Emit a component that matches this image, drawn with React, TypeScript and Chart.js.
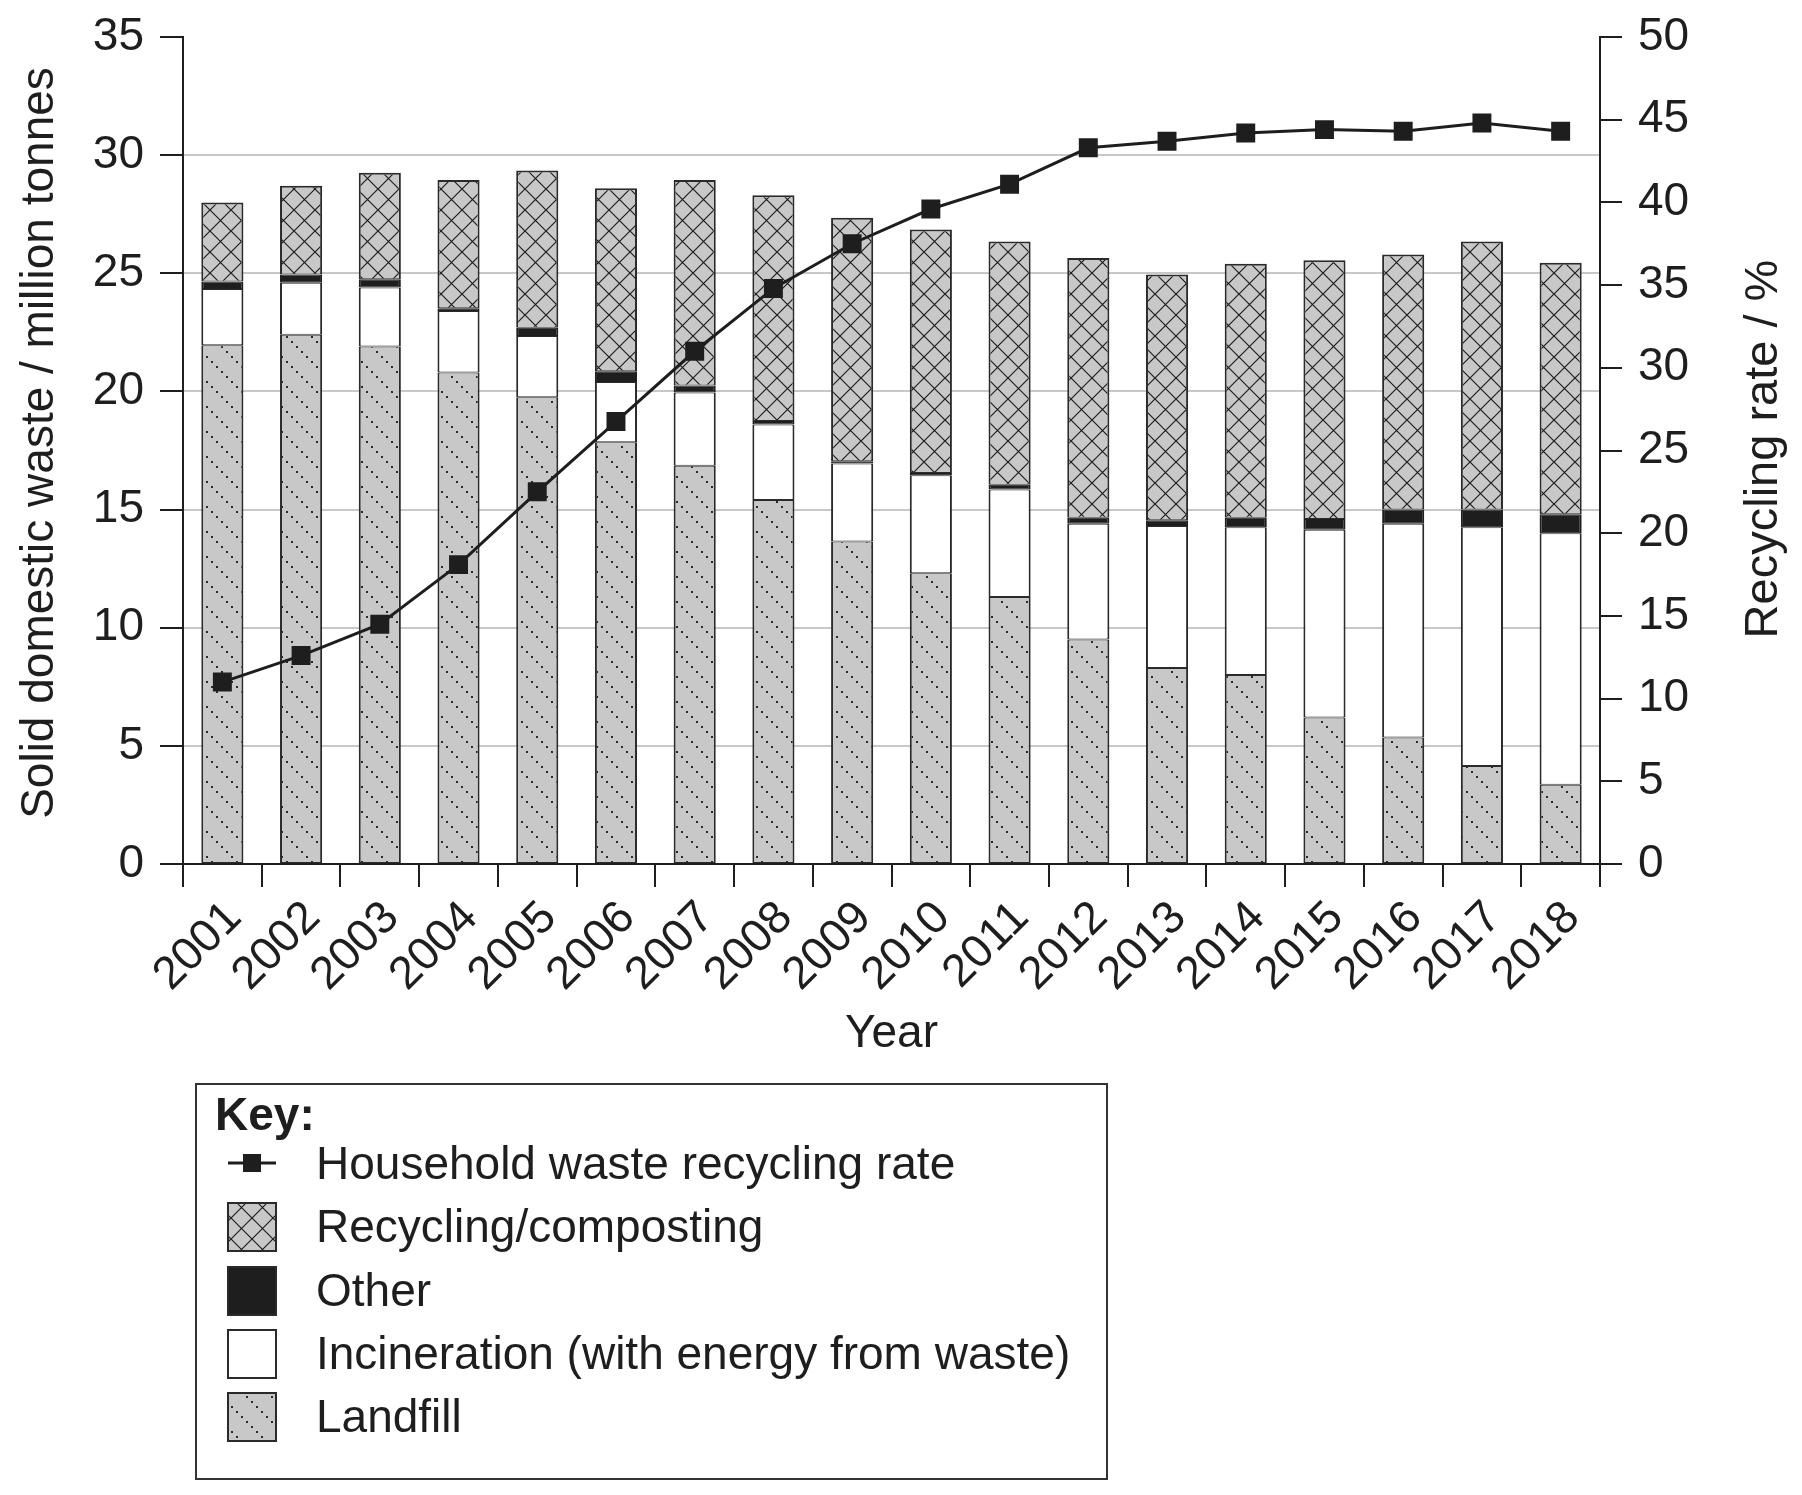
import React, { useEffect, useRef } from 'react';
import { Chart, registerables } from 'chart.js';

Chart.register(...registerables);

const years = ['2001', '2002', '2003', '2004', '2005', '2006', '2007', '2008', '2009', '2010', '2011', '2012', '2013', '2014', '2015', '2016', '2017', '2018'];
const landfill = [21.95, 22.4, 21.9, 20.8, 19.75, 17.85, 16.85, 15.4, 13.65, 12.3, 11.3, 9.5, 8.3, 8.0, 6.2, 5.35, 4.15, 3.35];
const incineration = [2.38, 2.2, 2.5, 2.6, 2.6, 2.55, 3.1, 3.2, 3.3, 4.15, 4.55, 4.9, 6.0, 6.25, 7.95, 9.05, 10.1, 10.65];
const other = [0.32, 0.35, 0.35, 0.12, 0.35, 0.45, 0.3, 0.15, 0.1, 0.1, 0.2, 0.25, 0.25, 0.4, 0.45, 0.6, 0.75, 0.8];
const recycling = [3.35, 3.75, 4.5, 5.43, 6.65, 7.75, 8.7, 9.55, 10.3, 10.3, 10.3, 11.0, 10.4, 10.75, 10.95, 10.8, 11.35, 10.65];
const recyclingRate = [11.0, 12.6, 14.5, 18.1, 22.5, 26.75, 31.0, 34.8, 37.5, 39.6, 41.1, 43.3, 43.7, 44.2, 44.4, 44.3, 44.8, 44.3];

const leftMax = 35;
const rightMax = 50;
const tickStep = 5;

const leftTitle = 'Solid domestic waste / million tonnes';
const rightTitle = 'Recycling rate / %';
const xTitle = 'Year';

const legendItems = [
  'Household waste recycling rate',
  'Recycling/composting',
  'Other',
  'Incineration (with energy from waste)',
  'Landfill',
];

const FONT = "'Liberation Sans', Arial, Helvetica, sans-serif";
const FS = 46;
const INK = '#1e1e1e';
const GRAY = '#c8c8c8';

function makeCross(): CanvasPattern | string {
  const p = 21;
  const c = document.createElement('canvas');
  c.width = p;
  c.height = p;
  const g = c.getContext('2d');
  if (!g) return GRAY;
  g.fillStyle = GRAY;
  g.fillRect(0, 0, p, p);
  g.strokeStyle = INK;
  g.lineWidth = 1.2;
  g.beginPath();
  for (let k = -1; k <= 1; k++) {
    g.moveTo(k * p - 2, -2);
    g.lineTo(k * p + p + 2, p + 2);
    g.moveTo(k * p + p + 2, -2);
    g.lineTo(k * p - 2, p + 2);
  }
  g.stroke();
  return g.createPattern(c, 'repeat') || GRAY;
}

function makeDots(): CanvasPattern | string {
  const p = 25;
  const c = document.createElement('canvas');
  c.width = p;
  c.height = p;
  const g = c.getContext('2d');
  if (!g) return GRAY;
  g.fillStyle = GRAY;
  g.fillRect(0, 0, p, p);
  g.fillStyle = '#2a2a2a';
  for (let i = 0; i < 5; i++) {
    g.fillRect(i * 5 + 1, i * 5 + 1, 2, 2);
  }
  return g.createPattern(c, 'repeat') || GRAY;
}

export default function App() {
  const ref = useRef<HTMLCanvasElement | null>(null);

  useEffect(() => {
    const canvas = ref.current;
    if (!canvas) return;
    const cross = makeCross();
    const dots = makeDots();

    const legendPlugin = {
      id: 'keyBox',
      afterDraw(chart: any) {
        const ctx = chart.ctx as CanvasRenderingContext2D;
        ctx.save();
        // axis titles, reading bottom to top
        ctx.fillStyle = INK;
        ctx.textAlign = 'center';
        ctx.textBaseline = 'middle';
        ctx.font = `${FS}px ${FONT}`;
        ctx.translate(40, 443);
        ctx.rotate(-Math.PI / 2);
        ctx.fillText(leftTitle, 0, 0);
        ctx.setTransform(1, 0, 0, 1, 0, 0);
        ctx.font = `47px ${FONT}`;
        ctx.translate(1764, 449);
        ctx.rotate(-Math.PI / 2);
        ctx.fillText(rightTitle, 0, 0);
        ctx.setTransform(1, 0, 0, 1, 0, 0);

        ctx.lineWidth = 2;
        ctx.strokeStyle = '#333';
        ctx.strokeRect(196, 1084, 911, 395);
        ctx.fillStyle = INK;
        ctx.textBaseline = 'alphabetic';
        ctx.textAlign = 'left';
        ctx.font = `bold ${FS}px ${FONT}`;
        ctx.fillText('Key:', 215, 1130);
        ctx.font = `${FS}px ${FONT}`;
        const baselines = [1179, 1242, 1306, 1369, 1432];
        const centers = [1163, 1227, 1291, 1354, 1417];
        ctx.strokeStyle = INK;
        ctx.lineWidth = 3;
        ctx.beginPath();
        ctx.moveTo(228, centers[0]);
        ctx.lineTo(276, centers[0]);
        ctx.stroke();
        ctx.fillStyle = INK;
        ctx.fillRect(252 - 9, centers[0] - 9, 18, 18);
        const fills: any[] = [cross, INK, '#ffffff', dots];
        for (let i = 0; i < 4; i++) {
          const cy = centers[i + 1];
          ctx.fillStyle = fills[i];
          ctx.fillRect(228, cy - 24, 48, 48);
          ctx.lineWidth = 2;
          ctx.strokeStyle = '#2a2a2a';
          ctx.strokeRect(228, cy - 24, 48, 48);
        }
        ctx.fillStyle = INK;
        for (let i = 0; i < legendItems.length; i++) {
          ctx.fillText(legendItems[i], 316, baselines[i]);
        }
        ctx.restore();
      },
    };

    const segBorder = { top: 1, bottom: 1, left: 2, right: 2 };
    const topBorder = { top: 2, bottom: 1, left: 2, right: 2 };
    const barCommon = {
      type: 'bar' as const,
      yAxisID: 'y',
      stack: 'waste',
      order: 1,
      borderColor: '#2a2a2a',
      borderSkipped: false,
      barPercentage: 0.535,
      categoryPercentage: 1,
    };

    const chart = new Chart(canvas, {
      type: 'bar',
      data: {
        labels: years,
        datasets: [
          {
            type: 'line',
            label: legendItems[0],
            data: recyclingRate,
            yAxisID: 'y1',
            order: 0,
            borderColor: INK,
            borderWidth: 3,
            pointStyle: 'rect',
            pointRadius: 13.4,
            pointBackgroundColor: INK,
            pointBorderColor: INK,
            pointBorderWidth: 0,
            tension: 0,
          } as any,
          { ...barCommon, label: legendItems[4], data: landfill, backgroundColor: dots, borderWidth: segBorder } as any,
          { ...barCommon, label: legendItems[3], data: incineration, backgroundColor: '#ffffff', borderWidth: segBorder } as any,
          { ...barCommon, label: legendItems[2], data: other, backgroundColor: INK, borderColor: INK, borderWidth: segBorder } as any,
          { ...barCommon, label: legendItems[1], data: recycling, backgroundColor: cross, borderWidth: topBorder } as any,
        ],
      },
      options: {
        responsive: false,
        animation: false,
        devicePixelRatio: 1,
        layout: { autoPadding: false, padding: { top: 37, left: 0, right: 0, bottom: 0 } },
        plugins: {
          legend: { display: false },
          tooltip: { enabled: false },
        },
        scales: {
          x: {
            stacked: true,
            offset: true,
            grid: {
              display: true,
              offset: true,
              drawOnChartArea: false,
              drawTicks: true,
              tickLength: 23,
              color: INK,
              lineWidth: 2,
            },
            border: { display: true, color: INK, width: 2 },
            ticks: {
              autoSkip: false,
              minRotation: 45,
              maxRotation: 45,
              padding: 4,
              labelOffset: 12,
              color: INK,
              font: { family: FONT, size: FS },
            },
            title: {
              display: true,
              text: xTitle,
              color: INK,
              font: { family: FONT, size: FS },
              padding: { top: 0, bottom: 433 },
            },
            afterFit: (s: any) => {
              s.height = 631;
              s.paddingLeft = 0;
              s.paddingRight = 0;
            },
          },
          y: {
            stacked: true,
            position: 'left',
            min: 0,
            max: leftMax,
            ticks: {
              stepSize: tickStep,
              padding: 16,
              color: INK,
              font: { family: FONT, size: FS },
            },
            grid: {
              color: (c: any) => (c.tick && c.tick.value > 0 && c.tick.value < leftMax ? GRAY : 'rgba(0,0,0,0)'),
              tickColor: INK,
              lineWidth: 2,
              tickLength: 23,
            },
            border: { display: true, color: INK, width: 2 },
            title: { display: false },
            afterFit: (s: any) => {
              s.width = 183;
              s.paddingTop = 0;
              s.paddingBottom = 0;
            },
          },
          y1: {
            position: 'right',
            min: 0,
            max: rightMax,
            ticks: {
              stepSize: tickStep,
              padding: 16,
              color: INK,
              font: { family: FONT, size: FS },
            },
            grid: {
              drawOnChartArea: false,
              color: INK,
              tickColor: INK,
              lineWidth: 2,
              tickLength: 22,
            },
            border: { display: true, color: INK, width: 2 },
            title: { display: false },
            afterFit: (s: any) => {
              s.width = 202;
              s.paddingTop = 0;
              s.paddingBottom = 0;
            },
          },
        },
      } as any,
      plugins: [legendPlugin],
    });

    return () => {
      chart.destroy();
    };
  }, []);

  return (
    <div style={{ position: 'absolute', left: 0, top: 0, width: 1802, height: 1495, background: '#ffffff' }}>
      <canvas ref={ref} width={1802} height={1495} style={{ width: 1802, height: 1495, display: 'block' }} />
    </div>
  );
}
